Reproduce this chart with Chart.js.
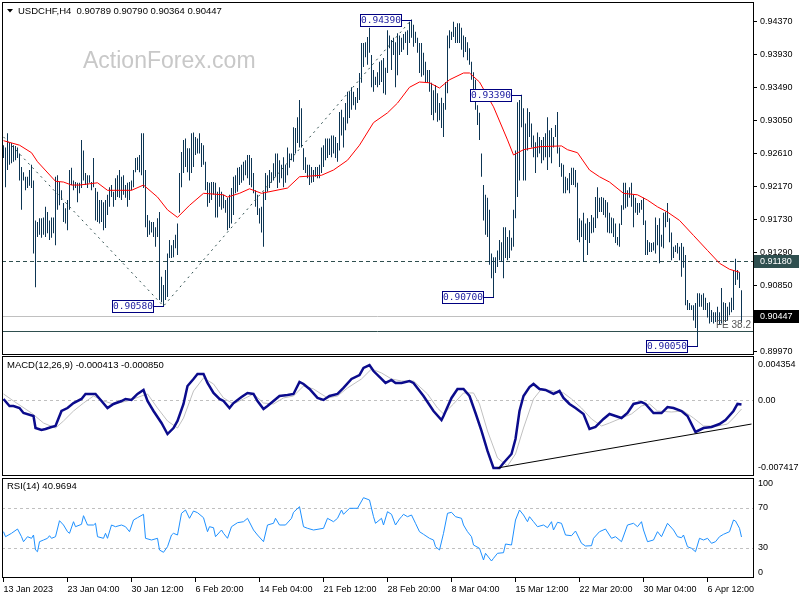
<!DOCTYPE html>
<html>
<head>
<meta charset="utf-8">
<title>USDCHF H4</title>
<script src="https://cdn.jsdelivr.net/npm/chart.js@4.4.1/dist/chart.umd.min.js"></script>
<style>
  html, body { margin: 0; padding: 0; background: #fff; }
  #wrap { position: relative; width: 800px; height: 600px; overflow: hidden; }
  canvas { position: absolute; left: 0; }
  #cPrice { top: 0; }
  #cMacd { top: 356px; }
  #cRsi { top: 477px; }
</style>
</head>
<body>
<div id="wrap">
  <canvas id="cPrice" width="800" height="356"></canvas>
  <canvas id="cMacd" width="800" height="120"></canvas>
  <canvas id="cRsi" width="800" height="123"></canvas>
</div>
<script>
  // H4 bars, oldest first (13 Jan 2023 -> 10 Apr 2023)
  const highs = [
    .9272,.9269,.9288,.9276,.9275,.9272,.9271,.9269,.9261,.9243,
    .9236,.9230,.9230,.9239,.9246,.9225,.9172,.9170,.9175,.9175,
    .9176,.9190,.9183,.9172,.9176,.9176,.9230,.9232,.9223,.9212,
    .9195,.9188,.9199,.9239,.9242,.9225,.9223,.9222,.9222,.9279,
    .9265,.9235,.9232,.9232,.9223,.9255,.9215,.9210,.9199,.9199,
    .9196,.9199,.9206,.9216,.9219,.9210,.9228,.9232,.9239,.9230,
    .9232,.9219,.9222,.9223,.9225,.9239,.9255,.9256,.9259,.9288,
    .9288,.9239,.9179,.9172,.9170,.9170,.9163,.9175,.9183,.9097,
    .9086,.9106,.9128,.9146,.9139,.9146,.9153,.9168,.9235,.9263,
    .9279,.9281,.9268,.9268,.9288,.9289,.9283,.9281,.9288,.9275,
    .9272,.9250,.9223,.9222,.9223,.9223,.9222,.9210,.9216,.9210,
    .9206,.9199,.9202,.9206,.9215,.9230,.9232,.9242,.9243,.9246,
    .9250,.9252,.9259,.9259,.9255,.9235,.9212,.9206,.9188,.9190,
    .9210,.9235,.9232,.9239,.9236,.9248,.9261,.9261,.9252,.9246,
    .9256,.9246,.9269,.9261,.9261,.9296,.9295,.9309,.9332,.9321,
    .9268,.9256,.9246,.9246,.9243,.9239,.9243,.9243,.9246,.9269,
    .9272,.9281,.9281,.9281,.9285,.9285,.9283,.9275,.9316,.9319,
    .9309,.9328,.9343,.9343,.9349,.9343,.9336,.9348,.9368,.9408,
    .9408,.9409,.9416,.9428,.9392,.9372,.9363,.9369,.9383,.9385,
    .9388,.9375,.9425,.9418,.9412,.9415,.9409,.9421,.9418,.9415,
    .9420,.9423,.9425,.9436,.9439,.9432,.9423,.9415,.9408,.9408,
    .9395,.9383,.9372,.9372,.9355,.9345,.9352,.9341,.9328,.9335,
    .9328,.9356,.9418,.9425,.9423,.9436,.9429,.9434,.9434,.9428,
    .9418,.9416,.9409,.9401,.9383,.9369,.9359,.9325,.9315,.9261,
    .9219,.9206,.9202,.9186,.9128,.9123,.9123,.9132,.9146,.9143,
    .9163,.9163,.9150,.9159,.9149,.9186,.9265,.9329,.9332,.9339,
    .9321,.9301,.9321,.9316,.9301,.9285,.9276,.9289,.9283,.9279,
    .9283,.9288,.9309,.9292,.9295,.9283,.9299,.9316,.9269,.9248,
    .9246,.9230,.9228,.9235,.9242,.9242,.9239,.9222,.9175,.9172,
    .9182,.9168,.9175,.9170,.9179,.9176,.9203,.9216,.9202,.9203,
    .9202,.9199,.9196,.9182,.9176,.9175,.9168,.9150,.9168,.9192,
    .9222,.9222,.9212,.9216,.9222,.9206,.9202,.9195,.9195,.9199,
    .9202,.9172,.9146,.9143,.9142,.9143,.9176,.9166,.9175,.9153,
    .9182,.9183,.9195,.9175,.9156,.9137,.9139,.9142,.9137,.9142,
    .9137,.9126,.9066,.9062,.9059,.9059,.9062,.9075,.9075,.9073,
    .9075,.9069,.9062,.9063,.9053,.9050,.9050,.9057,.9050,.9082,
    .9063,.9062,.9057,.9063,.9069,.9106,.9121,.9106,.9103,.9079
  ];
  const lows = [
    .9255,.9216,.9239,.9246,.9248,.9250,.9252,.9255,.9225,.9186,
    .9225,.9212,.9215,.9218,.9215,.9128,.9083,.9150,.9153,.9149,
    .9153,.9150,.9155,.9146,.9149,.9155,.9139,.9186,.9192,.9199,
    .9170,.9168,.9159,.9186,.9219,.9212,.9215,.9196,.9208,.9215,
    .9225,.9219,.9215,.9222,.9212,.9216,.9172,.9170,.9168,.9170,
    .9159,.9162,.9179,.9190,.9203,.9190,.9199,.9203,.9202,.9199,
    .9206,.9202,.9190,.9199,.9212,.9216,.9236,.9239,.9236,.9232,
    .9215,.9163,.9150,.9153,.9156,.9150,.9137,.9150,.9066,.9063,
    .9058,.9066,.9070,.9122,.9122,.9123,.9135,.9126,.9182,.9216,
    .9235,.9243,.9236,.9225,.9235,.9243,.9259,.9261,.9261,.9243,
    .9246,.9212,.9190,.9195,.9199,.9206,.9176,.9176,.9190,.9186,
    .9188,.9182,.9159,.9162,.9168,.9179,.9208,.9210,.9219,.9222,
    .9225,.9232,.9228,.9219,.9216,.9208,.9190,.9179,.9168,.9156,
    .9137,.9199,.9210,.9215,.9222,.9225,.9230,.9215,.9222,.9228,
    .9216,.9222,.9232,.9242,.9252,.9250,.9261,.9275,.9269,.9269,
    .9239,.9235,.9228,.9219,.9222,.9223,.9230,.9228,.9228,.9235,
    .9243,.9252,.9255,.9259,.9256,.9261,.9255,.9250,.9265,.9285,
    .9269,.9292,.9301,.9308,.9319,.9325,.9319,.9328,.9332,.9355,
    .9376,.9389,.9379,.9395,.9349,.9343,.9352,.9349,.9352,.9356,
    .9341,.9339,.9368,.9401,.9372,.9392,.9349,.9365,.9392,.9396,
    .9399,.9408,.9392,.9408,.9415,.9403,.9408,.9395,.9368,.9363,
    .9365,.9356,.9355,.9343,.9312,.9305,.9315,.9303,.9305,.9295,
    .9283,.9319,.9341,.9401,.9412,.9416,.9408,.9408,.9408,.9399,
    .9389,.9396,.9385,.9379,.9359,.9336,.9319,.9299,.9279,.9230,
    .9172,.9153,.9150,.9113,.9095,.9070,.9102,.9110,.9119,.9117,
    .9095,.9122,.9119,.9122,.9132,.9137,.9175,.9203,.9225,.9296,
    .9225,.9225,.9265,.9283,.9269,.9256,.9235,.9256,.9261,.9248,
    .9252,.9256,.9239,.9256,.9248,.9269,.9283,.9261,.9243,.9230,
    .9208,.9208,.9212,.9208,.9219,.9219,.9216,.9146,.9143,.9150,
    .9117,.9146,.9126,.9142,.9155,.9156,.9162,.9175,.9183,.9183,
    .9179,.9176,.9156,.9155,.9155,.9150,.9142,.9139,.9137,.9166,
    .9186,.9188,.9190,.9202,.9190,.9163,.9182,.9179,.9182,.9186,
    .9166,.9126,.9126,.9130,.9130,.9132,.9128,.9139,.9115,.9137,
    .9135,.9163,.9170,.9143,.9119,.9122,.9130,.9128,.9119,.9097,
    .9109,.9059,.9053,.9053,.9053,.9039,.9029,.9005,.9057,.9057,
    .9053,.9053,.9043,.9035,.9037,.9035,.9037,.9037,.9033,.9035,
    .9037,.9037,.9039,.9046,.9050,.9053,.9086,.9093,.9082,.9036
  ];

  // red moving average, [bar, price]
  const maPoints = [
    [0,.9278],[8,.9272],[14,.9262],[17,.9250],[26,.9224],[30,.9223],[34,.9219],[38,.9219],
    [47,.9222],[52,.9212],[64,.9212],[70,.9219],[77,.9203],[82,.9186],[87,.9176],[93,.9192],
    [100,.9208],[105,.9207],[110,.9206],[112,.9203],[118,.9208],[123,.9214],[129,.9208],[142,.9215],
    [148,.9230],[159,.9232],[165,.9239],[172,.9252],[178,.9272],[185,.9302],[192,.9315],[197,.9328],
    [203,.9349],[208,.9356],[213,.9355],[218,.9348],[223,.9359],[230,.9368],[233,.9368],[238,.9356],
    [245,.9323],[252,.9279],[255,.9259],[260,.9266],[268,.9270],[279,.9271],[282,.9266],[287,.9262],
    [293,.9239],[298,.9230],[303,.9223],[310,.9208],[317,.9206],[322,.9199],[327,.9190],[332,.9183],
    [338,.9172],[345,.9152],[352,.9132],[358,.9115],[363,.9107],[368,.9103]
  ];

  // fibo expansion swing points, [bar, price]
  const fibPoints = [[0, .9283], [80, .9058], [204, .9439]];
  // marked highs / lows, [bar, price]
  const markPoints = [[204, .94390], [259, .93390], [80, .90580], [245, .90700], [347, .90050]];
  // horizontal levels: resistance, last price, FE 38.2
  const levelPrices = [0.91180, 0.90447, 0.90250];
  const axisMarkPrices = [0.91180, 0.90447];
  const priceTicks = [0.94370, 0.93930, 0.93490, 0.93050, 0.92610, 0.92170, 0.91730, 0.91290, 0.90850, 0.89970];

  // MACD main and signal, [bar, value]
  const macdPoints = [
    [0,.00014],[3,-.00055],[5,-.00055],[8,-.00075],[10,-.00124],[15,-.00153],[16,-.00271],[19,-.00290],
    [21,-.00281],[24,-.00261],[26,-.00251],[29,-.00104],[32,-.00075],[35,-.00026],[39,.00014],[41,.00063],
    [46,.00063],[49,-.00006],[52,-.00075],[55,-.00035],[59,-.00006],[61,.00014],[64,.00004],[67,.00063],
    [70,.00102],[72,-.00006],[75,-.00104],[79,-.00222],[82,-.00330],[85,-.00271],[87,-.00202],[90,-.00035],
    [92,.00141],[95,.00210],[97,.00259],[100,.00259],[102,.00171],[105,.00073],[108,.00014],[110,-.00006],
    [113,-.00075],[115,-.00026],[119,.00033],[122,.00073],[125,.00063],[127,-.00006],[130,-.00084],[132,-.00055],
    [135,-.00006],[138,.00043],[142,.00053],[145,.00063],[148,.00181],[150,.00161],[153,.00112],[157,.00024],
    [160,.00004],[163,.00043],[167,.00063],[170,.00122],[174,.00210],[178,.00249],[180,.00318],[183,.00347],
    [185,.00288],[189,.00210],[191,.00171],[194,.00200],[196,.00171],[199,.00171],[203,.00190],[205,.00171],
    [210,.00043],[215,-.00104],[219,-.00192],[220,-.00153],[224,.00024],[227,.00112],[230,.00112],[233,.00043],
    [236,-.00124],[239,-.00300],[242,-.00496],[245,-.00663],[248,-.00663],[250,-.00614],[254,-.00526],[256,-.00379],
    [258,-.00104],[260,.00043],[263,.00131],[265,.00161],[268,.00112],[271,.00102],[275,.00063],[278,.00092],
    [280,.00024],[283,-.00035],[286,-.00075],[290,-.00133],[293,-.00281],[296,-.00261],[300,-.00182],[303,-.00133],
    [306,-.00153],[309,-.00173],[312,-.00124],[315,-.00035],[319,-.00016],[321,-.00035],[325,-.00124],[329,-.00124],
    [332,-.00065],[335,-.00075],[339,-.00104],[342,-.00153],[346,-.00310],[350,-.00271],[354,-.00261],[358,-.00232],
    [361,-.00192],[365,-.00104],[367,-.00035],[369,-.00041]
  ];
  const signalPoints = [
    [0,.00063],[5,-.00006],[14,-.00124],[20,-.00222],[26,-.00271],[30,-.00202],[35,-.00104],[40,-.00026],
    [45,.00043],[50,-.00006],[55,-.00035],[62,-.00006],[69,.00043],[72,.00063],[77,-.00075],[82,-.00202],
    [87,-.00271],[90,-.00173],[95,.00092],[100,.00220],[105,.00161],[110,.00024],[115,-.00035],[120,.00014],
    [125,.00063],[130,-.00026],[135,-.00035],[140,.00024],[145,.00043],[150,.00141],[155,.00112],[162,.00024],
    [167,.00043],[172,.00122],[179,.00210],[184,.00308],[189,.00269],[194,.00210],[199,.00190],[205,.00190],
    [212,.00063],[217,-.00075],[220,-.00133],[225,-.00035],[230,.00073],[235,.00073],[238,-.00035],[242,-.00300],
    [247,-.00565],[252,-.00643],[256,-.00526],[260,-.00271],[265,.00014],[269,.00112],[275,.00092],[280,.00073],
    [284,.00014],[289,-.00075],[294,-.00182],[299,-.00251],[303,-.00222],[309,-.00173],[314,-.00133],[319,-.00055],
    [323,-.00035],[327,-.00104],[334,-.00114],[340,-.00104],[345,-.00173],[350,-.00251],[357,-.00251],[362,-.00232],
    [365,-.00173],[369,-.00085]
  ];
  const macdTrend = [[247, -.00663], [374, -.00232]];
  const macdAxisValues = [0.004354, 0, -0.007417];
  const macdAxisLabels = ['0.004354', '0.00', '-0.007417'];

  // RSI(14), [bar, value]
  const rsiPoints = [
    [0,46.3],[1,41.3],[4,44.7],[7,49],[9,41.3],[10,36.3],[12,41.3],[14,39.7],[15,43],[16,28],[17,26.3],[18,36.3],
    [20,38],[22,39.7],[23,42.3],[24,39.7],[26,41.3],[28,57.3],[30,53],[32,46.3],[33,44.7],[35,56.3],[36,51.3],
    [39,53.7],[40,62.3],[42,53],[45,53],[46,54.7],[47,41.3],[50,39.7],[51,44.7],[52,39.7],[54,53],[56,51.3],
    [59,53],[61,51.3],[63,46.3],[65,58],[67,60.3],[70,63.7],[71,39.7],[74,38],[77,39.7],[78,28],[80,25.7],
    [82,31.3],[84,43],[85,44.7],[87,43],[89,64.7],[91,68],[93,59.7],[95,67],[97,65.3],[100,60.3],[102,46.3],
    [103,51.3],[105,50.3],[106,41.3],[109,48],[110,44.7],[112,39.7],[114,51.3],[117,55.3],[120,56.3],[122,59.7],
    [125,48],[127,43],[130,36.3],[132,53],[135,54.7],[136,59.7],[138,53],[141,53],[144,59.7],[145,65.7],
    [148,71.3],[150,51.3],[152,49.7],[155,48],[160,49.7],[162,59.7],[165,56.3],[167,59.7],[169,68],[170,63.7],
    [173,69.7],[177,69.7],[180,80.3],[183,78],[185,61.3],[186,54.7],[189,59.7],[190,53],[192,66.3],[194,63.7],
    [196,53],[198,59],[199,61.3],[200,63.7],[202,61.3],[204,63],[206,54.7],[208,46.3],[210,43.7],[213,39.7],
    [215,38],[216,31.3],[218,28],[220,44.7],[222,64.7],[224,65.7],[226,61.3],[229,59.7],[230,53],[232,46.3],
    [234,41.3],[235,33],[238,29.7],[240,18],[241,24.7],[244,17],[245,19.7],[247,24.7],[250,25.3],[251,34],
    [254,33],[256,58],[258,68],[260,63],[262,56.3],[263,61.3],[265,56.3],[267,51.3],[270,53],[272,50.3],
    [274,56.3],[275,48],[277,55.7],[279,54.7],[281,43],[284,42.3],[286,47],[287,43],[289,34.7],[291,32],
    [294,32.3],[295,39.7],[298,46.3],[301,49],[304,39.7],[306,41.3],[309,36.3],[312,53],[315,54.7],[317,51.3],
    [319,56.3],[320,48],[322,36.3],[325,38],[327,46.3],[329,41.3],[332,54.7],[335,48],[337,41.3],[339,40.3],
    [340,43],[342,31.3],[344,29.7],[346,26.3],[348,39.7],[350,38],[352,39.7],[354,34.7],[356,36.3],[358,41.3],
    [360,43.7],[363,46.3],[365,58],[366,57],[368,49.7],[369,41]
  ];
  const rsiLevels = [70, 30];
  const rsiAxisValues = [100, 70, 30, 0];

  // time axis: one label every 32 bars
  const timeBars = [0, 32, 64, 96, 128, 160, 192, 224, 256, 288, 320, 352];
  const timeLabels = ['13 Jan 2023', '23 Jan 04:00', '30 Jan 12:00', '6 Feb 20:00', '14 Feb 04:00', '21 Feb 12:00',
    '28 Feb 20:00', '8 Mar 04:00', '15 Mar 12:00', '22 Mar 20:00', '30 Mar 04:00', '6 Apr 12:00'];

  const priceTitle = 'USDCHF,H4  0.90789 0.90790 0.90364 0.90447';
  const macdTitle = 'MACD(12,26,9) -0.000413 -0.000850';
  const rsiTitle = 'RSI(14) 40.9694';
  const watermark = 'ActionForex.com';
  const feLabel = 'FE 38.2';

  // ---- layout / style ----
  const X_MIN = -0.75, X_MAX = 374.75;   // 2px per bar
  const AXIS_W = 47;
  const FONT = '"Liberation Sans", Arial, sans-serif';
  Chart.defaults.font.family = FONT;
  Chart.defaults.font.size = 9;
  Chart.defaults.color = '#000';

  const toXY = pts => pts.map(([b, v]) => ({ x: b, y: v }));

  function frame(chart) {
    const { ctx, chartArea: a } = chart;
    ctx.save();
    ctx.strokeStyle = '#000';
    ctx.lineWidth = 1;
    ctx.strokeRect(a.left + 0.5, a.top + 0.5, a.right - a.left, a.bottom - a.top - 1);
    ctx.restore();
  }

  function hLine(chart, value, color, dash) {
    const { ctx, chartArea: a, scales: { y } } = chart;
    const py = Math.round(y.getPixelForValue(value)) + 0.5;
    ctx.save();
    ctx.strokeStyle = color;
    ctx.lineWidth = 1;
    ctx.setLineDash(dash);
    ctx.beginPath();
    ctx.moveTo(a.left, py);
    ctx.lineTo(a.right, py);
    ctx.stroke();
    ctx.restore();
  }

  function panelTitle(chart, text, x, y) {
    const ctx = chart.ctx;
    ctx.save();
    ctx.font = '9.5px ' + FONT;
    ctx.fillStyle = '#000';
    ctx.textAlign = 'left';
    ctx.textBaseline = 'middle';
    ctx.fillText(text, x, y);
    ctx.restore();
  }

  // right axis labels; MT4 keeps the edge ones inside the panel
  function sideLabels(chart, values, labels, inset, dx) {
    const { ctx, chartArea: a, scales: { y } } = chart;
    ctx.save();
    ctx.font = '9px ' + FONT;
    ctx.fillStyle = '#000';
    ctx.textAlign = 'left';
    ctx.textBaseline = 'middle';
    values.forEach((v, i) => {
      let py = y.getPixelForValue(v);
      py = Math.min(Math.max(py, a.top + inset), a.bottom - inset);
      ctx.fillText(labels[i], a.right + dx, py);
    });
    ctx.restore();
  }

  const baseOptions = (yOpts) => ({
    responsive: false,
    animation: false,
    events: [],
    plugins: { legend: { display: false }, tooltip: { enabled: false } },
    scales: {
      x: { type: 'linear', min: X_MIN, max: X_MAX, offset: false, display: false },
      y: Object.assign({
        position: 'right',
        afterFit: s => { s.width = AXIS_W; },
        ticks: { display: false },
        grid: { display: false },
        border: { display: false }
      }, yOpts)
    }
  });

  // ---- price panel ----
  const pricePlugin = {
    id: 'priceDecor',
    beforeDatasetsDraw(chart) {
      const ctx = chart.ctx;
      ctx.save();
      ctx.font = '23px ' + FONT;
      ctx.fillStyle = '#c8c8c8';
      ctx.textAlign = 'left';
      ctx.textBaseline = 'alphabetic';
      ctx.fillText(watermark, 83, 68);
      ctx.restore();
      hLine(chart, levelPrices[0], '#2f4f4f', [4, 3]);
      hLine(chart, levelPrices[1], '#c0c0c0', []);
      hLine(chart, levelPrices[2], '#2f4f4f', []);
    },
    afterDatasetsDraw(chart) {
      const { ctx, chartArea: a, scales: { x, y } } = chart;
      ctx.save();
      ctx.font = '10px ' + FONT;
      ctx.fillStyle = '#555';
      ctx.textAlign = 'right';
      ctx.textBaseline = 'bottom';
      ctx.fillText(feLabel, a.right - 2, Math.round(y.getPixelForValue(levelPrices[2])) - 1);

      ctx.lineWidth = 1;
      ctx.font = '9.5px "DejaVu Sans Mono", monospace';
      ctx.textAlign = 'center';
      ctx.textBaseline = 'middle';
      markPoints.forEach(([bar, price]) => {
        const bx = Math.round(x.getPixelForValue(bar));
        const by = Math.round(y.getPixelForValue(price)) + 0.5;
        const right = bx - 10, left = right - 42;
        ctx.strokeStyle = '#000080';
        ctx.beginPath();
        ctx.moveTo(right, by);
        ctx.lineTo(bx, by);
        ctx.stroke();
        ctx.fillStyle = '#fff';
        ctx.fillRect(left, by - 6, 42, 12);
        ctx.strokeRect(left + 0.5, by - 6, 41, 12);
        ctx.fillStyle = '#1c1ca0';
        ctx.fillText(price.toFixed(5), left + 21, by + 0.5);
      });
      ctx.restore();
    },
    afterDraw(chart) {
      const { ctx, chartArea: a, scales: { y } } = chart;
      sideLabels(chart, priceTicks, priceTicks.map(v => v.toFixed(5)), 0, 7);
      ctx.save();
      ctx.font = '9px ' + FONT;
      ctx.textAlign = 'left';
      ctx.textBaseline = 'middle';
      const bgs = ['#2f4f4f', '#000'];
      axisMarkPrices.forEach((p, i) => {
        const py = Math.round(y.getPixelForValue(p));
        ctx.fillStyle = bgs[i];
        ctx.fillRect(a.right + 1, py - 6, 45, 13);
        ctx.fillStyle = '#fff';
        ctx.fillText(p.toFixed(5), a.right + 7, py + 0.5);
      });
      // title with the small menu triangle
      ctx.fillStyle = '#000';
      ctx.beginPath();
      ctx.moveTo(7, 9); ctx.lineTo(13, 9); ctx.lineTo(10, 12.5); ctx.closePath();
      ctx.fill();
      ctx.restore();
      panelTitle(chart, priceTitle, 18, 11);
      frame(chart);
    }
  };

  const priceOpts = baseOptions({
    min: 0.89930,
    max: 0.94624,
    afterBuildTicks: s => { s.ticks = priceTicks.map(v => ({ value: v })); },
    grid: { display: true, drawOnChartArea: false, drawTicks: true, tickLength: 4, color: '#000' }
  });
  priceOpts.layout = { padding: { left: 2, top: 2, bottom: 1, right: 0 } };

  new Chart(document.getElementById('cPrice'), {
    type: 'bar',
    data: {
      datasets: [
        { type: 'line', data: toXY(maPoints), borderColor: '#ff0000', borderWidth: 1, pointRadius: 0, order: 0 },
        { type: 'line', data: toXY(fibPoints), borderColor: '#2f4f4f', borderWidth: 1, borderDash: [2, 4], pointRadius: 0, order: 1 },
        {
          type: 'bar',
          data: highs.map((h, i) => ({ x: i, y: [lows[i], h] })),
          backgroundColor: '#0d3553',
          barThickness: 1,
          inflateAmount: 0,
          borderWidth: 0,
          order: 2
        }
      ]
    },
    options: priceOpts,
    plugins: [pricePlugin]
  });

  // ---- MACD panel ----
  const macdOpts = baseOptions({ min: -0.007417, max: 0.004354 });
  macdOpts.layout = { padding: { left: 2, top: 0, bottom: 0, right: 0 } };
  new Chart(document.getElementById('cMacd'), {
    type: 'line',
    data: {
      datasets: [
        { data: toXY(macdTrend), borderColor: '#000', borderWidth: 1, pointRadius: 0, order: 0 },
        { data: toXY(macdPoints), borderColor: '#0b0b8c', borderWidth: 2.5, pointRadius: 0, order: 1 },
        { data: toXY(signalPoints), borderColor: '#c0c0c0', borderWidth: 1, pointRadius: 0, order: 2 }
      ]
    },
    options: macdOpts,
    plugins: [{
      id: 'macdDecor',
      beforeDatasetsDraw(chart) { hLine(chart, 0, '#c0c0c0', [3, 3]); },
      afterDraw(chart) {
        panelTitle(chart, macdTitle, 7, 9.5);
        sideLabels(chart, macdAxisValues, macdAxisLabels, 8.5, 5);
        frame(chart);
      }
    }]
  });

  // ---- RSI panel ----
  const rsiOpts = baseOptions({ min: 0, max: 100 });
  rsiOpts.layout = { padding: { left: 2, top: 1, bottom: 0, right: 0 } };
  rsiOpts.scales.x = {
    type: 'linear', min: X_MIN, max: X_MAX, offset: false, display: true,
    afterBuildTicks: s => { s.ticks = timeBars.map(v => ({ value: v })); },
    afterFit: s => { s.height = 22; },
    ticks: {
      callback: v => timeLabels[timeBars.indexOf(v)],
      align: 'start', autoSkip: false, maxRotation: 0, padding: 2
    },
    grid: { display: true, drawOnChartArea: false, drawTicks: true, tickLength: 4, color: '#000' },
    border: { display: false }
  };
  new Chart(document.getElementById('cRsi'), {
    type: 'line',
    data: {
      datasets: [
        { data: toXY(rsiPoints), borderColor: '#1e90ff', borderWidth: 1, pointRadius: 0 }
      ]
    },
    options: rsiOpts,
    plugins: [{
      id: 'rsiDecor',
      beforeDatasetsDraw(chart) {
        rsiLevels.forEach(v => hLine(chart, v, '#c0c0c0', [3, 3]));
      },
      afterDraw(chart) {
        panelTitle(chart, rsiTitle, 7, 9);
        sideLabels(chart, rsiAxisValues, rsiAxisValues.map(String), 5.5, 5);
        frame(chart);
      }
    }]
  });
</script>
</body>
</html>
